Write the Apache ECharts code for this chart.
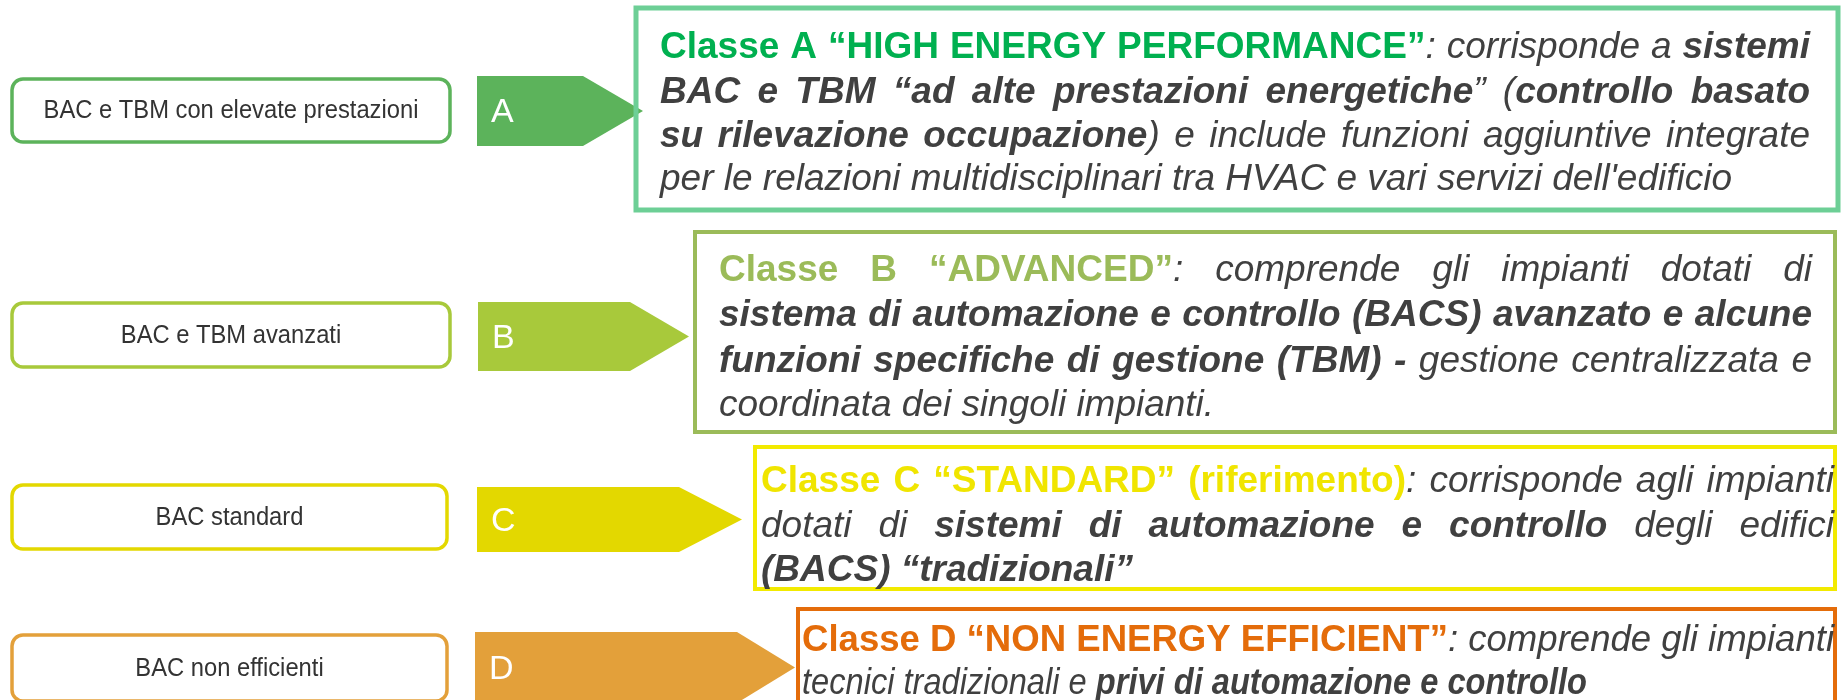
<!DOCTYPE html>
<html>
<head>
<meta charset="utf-8">
<script src="https://cdn.jsdelivr.net/npm/echarts@6/dist/echarts.min.js"></script>
<style>
html, body { margin: 0; padding: 0; background: #fff; }
#main { width: 1841px; height: 700px; }
</style>
</head>
<body>
<div id="main"></div>
<script>
// classi BAC/TBM
var classes = ['A', 'B', 'C', 'D'];
var leftLabels = ['BAC e TBM con elevate prestazioni', 'BAC e TBM avanzati', 'BAC standard', 'BAC non efficienti'];
// righe di descrizione: [stile, testo]  h = titolo, i = corsivo, b = corsivo grassetto
var descA = [
    [['h', 'Classe A “HIGH ENERGY PERFORMANCE”'], ['i', ': corrisponde a '], ['b', 'sistemi']],
    [['b', 'BAC e TBM “ad alte prestazioni energetiche'], ['i', '” ('], ['b', 'controllo basato']],
    [['b', 'su rilevazione occupazione'], ['i', ') e include funzioni aggiuntive integrate']],
    [['i', 'per le relazioni multidisciplinari tra HVAC e vari servizi dell\'edificio']]
];
var descB = [
    [['h', 'Classe B “ADVANCED”'], ['i', ': comprende gli impianti dotati di']],
    [['b', 'sistema di automazione e controllo (BACS) avanzato e alcune']],
    [['b', 'funzioni specifiche di gestione (TBM) -'], ['i', ' gestione centralizzata e']],
    [['i', 'coordinata dei singoli impianti.']]
];
var descC = [
    [['h', 'Classe C “STANDARD” (riferimento)'], ['i', ': corrisponde agli impianti']],
    [['i', 'dotati di '], ['b', 'sistemi di automazione e controllo'], ['i', ' degli edifici']],
    [['b', '(BACS) “tradizionali”']]
];
var descD = [
    [['h', 'Classe D “NON ENERGY EFFICIENT”'], ['i', ': comprende gli impianti']],
    [['i', 'tecnici tradizionali e '], ['b', 'privi di automazione e controllo']]
];
var descriptions = [descA, descB, descC, descD];

// colori
var classColors = ['#5CB35B', '#A8C93B', '#E3D800', '#E3A03A'];
var boxColors = ['#6DCF96', '#9BBB59', '#F2EA00', '#E46C0A'];
var headColors = ['#00B050', '#9BBB59', '#F0E500', '#E46C0A'];
var textColor = '#404040';
var FONT = '"Liberation Sans", Arial, sans-serif';

// geometria (px)
var leftBoxes = [[12, 79, 438, 63], [12, 303, 438, 64], [12, 485, 435, 64], [12, 635, 435, 66]];
var arrows = [ // x0, fine rettangolo, punta, y0, y1
    [477, 583, 643, 76, 146],
    [478, 630, 689, 302, 371],
    [477, 679, 742, 487, 552],
    [475, 737, 795, 632, 703]
];
var textBoxes = [[636, 8, 1202, 202, 5], [695, 232, 1140, 200, 4], [755, 447, 1080, 142, 4], [798, 609, 1037, 100, 4]];
var lineLayout = [ // sinistra, [destra...], [y...]
    [660, [1810, 1810, 1810, 1732], [48, 93, 137, 180]],
    [719, [1812, 1812, 1812, 1214], [271, 316, 362, 406]],
    [761, [1834, 1834, 1133], [482, 527, 571]],
    [802, [1834, 1587], [641, 684]]
];
var descSize = 37;

var ctx = document.createElement('canvas').getContext('2d');
function styleOf(k) {
    return {
        fontStyle: k === 'h' ? 'normal' : 'italic',
        fontWeight: k === 'i' ? 'normal' : 'bold'
    };
}
function measure(k, t) {
    var s = styleOf(k);
    ctx.font = s.fontStyle + ' ' + s.fontWeight + ' ' + descSize + 'px ' + FONT;
    return ctx.measureText(t).width;
}
function tokenize(line) {
    var words = [], cur = null;
    line.forEach(function (seg) {
        seg[1].split(' ').forEach(function (p, idx) {
            if (idx > 0) cur = null;
            if (p === '') return;
            if (!cur) { cur = []; words.push(cur); }
            cur.push({ k: seg[0], t: p, w: measure(seg[0], p) });
        });
    });
    return words;
}

var elements = [];
classes.forEach(function (c, i) {
    var lb = leftBoxes[i];
    elements.push({
        type: 'rect', silent: true,
        shape: { x: lb[0], y: lb[1], width: lb[2], height: lb[3], r: 11 },
        style: { fill: '#fff', stroke: classColors[i], lineWidth: 3.5 }
    });
    elements.push({
        type: 'text', silent: true, x: lb[0] + lb[2] / 2, y: lb[1] + lb[3] / 2 + 1, scaleX: 0.95,
        style: { text: leftLabels[i], fill: '#333', fontSize: 25, fontFamily: FONT, align: 'center', verticalAlign: 'middle' }
    });
    var a = arrows[i];
    elements.push({
        type: 'polygon', silent: true,
        shape: { points: [[a[0], a[3]], [a[1], a[3]], [a[2], (a[3] + a[4]) / 2], [a[1], a[4]], [a[0], a[4]]] },
        style: { fill: classColors[i] }
    });
    elements.push({
        type: 'text', silent: true, x: a[0] + 14, y: (a[3] + a[4]) / 2 + 2,
        style: { text: c, fill: '#fff', fontSize: 34, fontFamily: FONT, align: 'left', verticalAlign: 'middle' }
    });
    var tb = textBoxes[i];
    elements.push({
        type: 'rect', silent: true,
        shape: { x: tb[0], y: tb[1], width: tb[2], height: tb[3] },
        style: { fill: 'none', stroke: boxColors[i], lineWidth: tb[4] }
    });

    var lay = lineLayout[i];
    var space = measure('i', ' ');
    descriptions[i].forEach(function (line, li) {
        var words = tokenize(line);
        var left = lay[0], W = lay[1][li] - left, yc = lay[2][li];
        var sum = 0;
        words.forEach(function (w) { w.forEach(function (p) { sum += p.w; }); });
        var n = words.length;
        var natural = sum + (n - 1) * space;
        var s = 1, gap = space;
        if (natural > W) { s = W / natural; gap = space * s; }
        else if (n > 1) { gap = (W - sum) / (n - 1); }
        var x = left;
        words.forEach(function (w) {
            w.forEach(function (p) {
                var st = styleOf(p.k);
                elements.push({
                    type: 'text', silent: true, x: x, y: yc, scaleX: s,
                    style: {
                        text: p.t, fill: p.k === 'h' ? headColors[i] : textColor,
                        fontStyle: st.fontStyle, fontWeight: st.fontWeight, fontSize: descSize, fontFamily: FONT,
                        align: 'left', verticalAlign: 'middle'
                    }
                });
                x += p.w * s;
            });
            x += gap;
        });
    });
});

var myChart = echarts.init(document.getElementById('main'));
myChart.setOption({
    animation: false,
    graphic: { elements: elements }
});
</script>
</body>
</html>
